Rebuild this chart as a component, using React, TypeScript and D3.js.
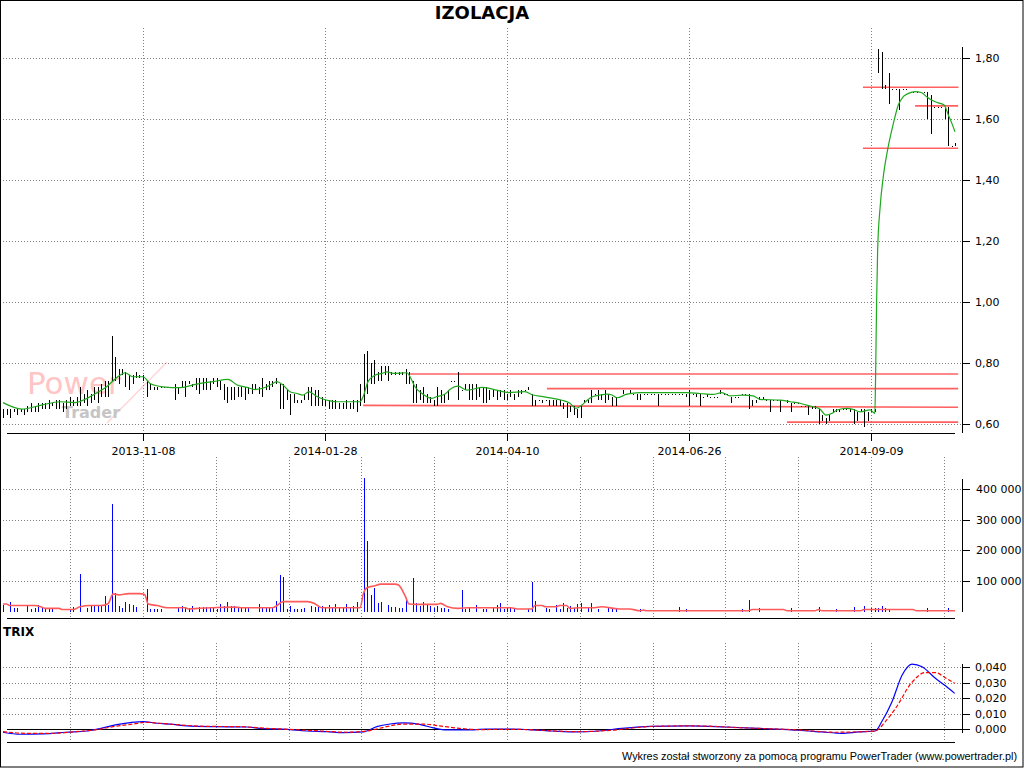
import React, { useEffect } from 'react';
import * as d3 from 'd3';

// ---------- DATA (prices in grosze = 0.01 PLN) ----------
const priceLow = [
  62,63,62,64,63,64,63,64,64,64, 64,65,65,65,66,65,65,64,65,66,
  66,66,66,67,66,67,68,67,69,69, 69,74,74,73,76,72,71,73,75,75,
  74,69,71,71,71,72,72,72,72,68, 70,72,69,73,72,71,70,71,71,71,
  73,72,71,68,67,68,68,69,69,68, 70,70,71,70,69,71,71,72,73,65,
  65,68,63,67,67,67,68,68,66,66, 66,66,66,65,65,65,65,65,65,65,
  65,64,66,67,70,73,73,74,74,76, 74,76,76,76,76,73,73,67,67,68,
  67,67,67,66,66,67,67,68,74,74, 68,71,71,68,68,68,69,67,67,68,
  69,68,69,68,68,69,68,69,70,71, 71,66,66,68,67,68,66,66,66,66,
  65,62,64,63,62,62,67,67,67,70, 68,68,67,68,66,66,69,70,70,70,
  70,68,68,70,70,70,70,66,70,70, 70,70,70,70,70,69,66,70,69,66,
  69,69,69,69,69,70,70,70,67,69, 69,70,70,65,66,67,68,68,68,64,
  68,68,64,68,67,64,67,67,66,66, 63,65,65,60,61,60,61,64,64,64,
  65,65,64,60,61,64,59,61,64,64, 175,170,170,165,170,170,163,170,170,169,
  169,169,169,169,160,155,164,164,164,160, 151,151,151
];
const priceHigh = [
  65,65,65,65,65,65,65,66,67,66, 67,67,67,68,67,68,68,67,68,69,
  68,69,72,70,71,70,72,72,73,74, 74,89,82,78,78,77,76,76,77,76,
  76,74,73,72,72,72,72,72,72,73, 72,74,74,74,73,75,75,75,75,74,
  75,75,74,73,72,72,72,72,72,72, 72,73,73,72,75,73,74,74,75,73,
  73,71,70,70,68,68,70,72,72,71, 71,69,68,68,68,68,67,67,68,67,
  68,68,73,83,84,80,81,77,79,79, 79,77,77,77,77,78,77,74,73,71,
  72,70,69,68,72,71,70,71,74,74, 77,71,73,73,73,73,72,72,72,71,
  71,71,71,71,70,71,70,71,71,71, 72,70,68,68,68,68,68,68,68,68,
  67,67,66,66,65,66,68,68,71,70, 71,70,71,70,69,69,69,71,70,71,
  70,70,70,70,70,70,70,70,70,70, 70,70,70,70,70,70,71,70,70,70,
  69,70,69,69,69,71,70,70,69,69, 69,70,70,70,68,68,69,69,68,68,
  68,68,68,68,68,67,67,67,66,66, 66,66,66,65,63,62,63,65,65,65,
  65,65,65,65,64,65,65,64,65,65, 183,182,171,175,170,170,170,170,170,169,
  169,169,169,169,169,168,164,164,164,164, 164,151,152
];
// volume in thousands of shares
const volumeK = [
  22,0,33,11,13,0,0,22,9,13, 22,13,9,9,9,0,0,0,0,5,
  16,0,123,0,11,18,18,18,18,51, 22,351,60,18,13,33,25,22,16,0,
  0,75,9,9,9,9,0,0,0,0, 16,20,16,11,20,0,15,15,15,15,
  11,8,25,20,33,20,20,11,15,11, 11,0,0,25,15,11,11,11,35,119,
  113,9,20,9,9,9,11,0,20,15, 15,20,15,22,11,25,11,11,25,11,
  20,33,0,436,231,54,78,27,33,0, 22,16,16,11,11,38,0,111,27,20,
  33,22,20,11,20,11,11,9,0,0, 0,71,9,11,0,22,0,9,9,0,
  11,22,27,9,11,16,9,0,0,0, 9,98,35,0,0,11,9,0,22,9,
  27,13,20,13,24,27,0,11,27,0, 9,0,0,13,9,11,0,0,0,0,
  0,0,9,0,0,0,0,0,0,0, 0,0,0,16,0,9,0,0,0,0,
  0,0,0,0,0,0,0,0,0,0, 0,9,0,38,0,0,13,0,0,0,
  0,0,0,0,0,13,0,0,0,0, 0,0,0,16,0,0,0,0,9,0,
  0,0,0,16,0,0,20,0,11,11, 11,20,11,9,0,0,0,0,0,0,
  0,0,0,0,13,0,0,0,0,0, 13,0,0
];
// moving average of price: [bar index, value]
const priceMA: [number, number][] = [
  [0,0.670],[5.4,0.649],[11,0.662],[16.3,0.673],[20.6,0.670],[24,0.684],[27.7,0.708],[29.6,0.722],
  [31.5,0.742],[33.4,0.760],[34.9,0.768],[37.1,0.755],[40,0.755],[42,0.733],[45.7,0.722],[50.6,0.719],
  [54.3,0.728],[56.3,0.733],[60,0.739],[64.3,0.746],[66.9,0.728],[69.7,0.720],[72,0.713],[75.4,0.722],
  [77.1,0.733],[78.3,0.739],[80,0.728],[82,0.706],[84,0.700],[85.7,0.695],[87.4,0.706],[89.7,0.690],
  [91.4,0.682],[93.4,0.676],[95.4,0.673],[102,0.673],[102.9,0.690],[104.3,0.739],[106.3,0.760],
  [108.3,0.766],[109.7,0.771],[111.4,0.766],[115.4,0.768],[116.3,0.755],[117.7,0.722],[119.7,0.700],
  [122.6,0.684],[124,0.690],[126.3,0.698],[127.7,0.713],[130,0.724],[132.6,0.711],[137.1,0.720],
  [141.1,0.711],[144.3,0.703],[149.1,0.706],[151.4,0.695],[154.3,0.690],[157.1,0.684],[159.7,0.678],
  [162,0.668],[163.7,0.651],[165.4,0.662],[166.9,0.678],[168.6,0.690],[170.6,0.695],[172.6,0.698],
  [174,0.695],[175.4,0.686],[178.3,0.698],[182,0.703],[195.4,0.703],[199.1,0.700],[202.9,0.697],
  [205.4,0.703],[207.7,0.692],[211.4,0.695],[214.3,0.692],[216.3,0.681],[222,0.678],[224.9,0.673],
  [227.7,0.668],[230.6,0.659],[233.4,0.649],[235.1,0.629],[236.9,0.635],[238.3,0.646],[241.1,0.651],
  [242.9,0.648],[244.9,0.640],[247.7,0.646],[249.1,0.635],[249.3,0.745],[249.6,1.000],[249.9,1.170],
  [250.6,1.310],[251.5,1.410],[252.6,1.490],[253.1,1.520],[254.4,1.586],[255.8,1.646],[257.2,1.673],
  [258.7,1.684],[260.6,1.690],[262.5,1.686],[263.9,1.673],[265.3,1.662],[267.2,1.653],[268.9,1.646],
  [270.1,1.613],[271.3,1.580],[272,1.558]
];
// volume moving average: [bar index, thousands]
const volumeMA: [number, number][] = [
  [0,25],[1,25],[2,20],[9,20],[11,15],[12,11],[16,11],[17,7],[20,7],[22,16],[25,20],[28,20],[30,26],
  [31.5,58],[33,55],[36,59],[39,59],[40.5,55],[41.5,25],[44,20],[47,13],[52,13],[53,9],[56,11],[60,13],
  [66,15],[68,13],[77,13],[78,18],[80,33],[87,33],[89,27],[91,13],[102,13],[103,60],[104,78],[106,84],
  [108,90],[112,90],[113,87],[115,49],[116,25],[118,24],[124,24],[125,27],[127,16],[130,11],[133,13],
  [145,13],[147,9],[151,9],[152,20],[154,20],[155,16],[158,16],[159,20],[161,20],[162,11],[165,13],
  [169,13],[171,16],[176,9],[179,9],[182,3],[183,5],[184,3],[213,3],[214,7],[223,7],[224,3],[232,3],
  [233,7],[234,3],[245,3],[246,7],[260,7],[261,3],[272,3]
];
const trixLine: [number, number][] = [
  [0,-0.0019],[5,-0.0032],[11.5,-0.003],[18,-0.0019],[24,-0.0011],[28,0.0006],[32.5,0.003],[36.3,0.0043],
  [40,0.005],[44,0.0039],[48.6,0.0032],[52.5,0.0022],[60,0.0017],[69.7,0.0015],[73.4,0.0006],[81,0],
  [86.8,-0.0011],[92.5,-0.0015],[97.2,-0.0022],[103,-0.0017],[106.8,0.0017],[110.6,0.0034],[114.4,0.0041],
  [119,0.0032],[123,0.0009],[126.8,-0.0004],[134.4,-0.0004],[138,0.0002],[145,0.0002],[156.9,-0.0011],
  [163.5,-0.0017],[170.2,-0.0011],[175.9,0.0004],[185.4,0.0019],[195.9,0.0022],[206.4,0.0015],
  [217.8,0.0004],[227.3,-0.0006],[234,-0.0017],[239.7,-0.0026],[244.5,-0.0017],[249.2,-0.0011],
  [251.1,0.005],[254,0.0178],[256.9,0.035],[259.7,0.0421],[262.6,0.0404],[266.4,0.0329],[269.2,0.0282],
  [271.9,0.0232]
];
const trixSignal: [number, number][] = [
  [0,-0.0015],[7,-0.0026],[13.4,-0.0026],[21,-0.0015],[26.8,-0.0002],[31.5,0.0017],[37.2,0.0034],
  [41,0.0045],[44.8,0.0039],[50.6,0.0028],[58.2,0.0019],[67.7,0.0017],[75.3,0.0006],[83,-0.0002],
  [90.6,-0.0011],[98.2,-0.0019],[103.9,-0.0011],[109.6,0.0017],[114.4,0.0034],[120,0.0034],[124.8,0.0022],
  [130.5,0.0006],[136.3,-0.0002],[145,0],[164.5,-0.0015],[174,-0.0006],[185.4,0.0019],[196.9,0.0022],
  [212.1,0.0009],[227.3,-0.0004],[237.8,-0.0019],[249.2,-0.0011],[252.1,0.005],[255,0.0135],
  [259.7,0.0303],[263.5,0.0366],[266.4,0.0366],[269.2,0.0333],[271.9,0.0297]
];
// support / resistance lines: [startIndex, startValue, endIndex, endValue]
const srLines: [number, number, number, number][] = [
  [116.3,0.764,272.9,0.764],
  [155.4,0.716,272.9,0.716],
  [102.9,0.661,272.9,0.655],
  [224,0.606,272.9,0.606],
  [245.7,1.704,273,1.704],
  [260.6,1.643,272.9,1.643],
  [245.7,1.504,272.9,1.504]
];
const dateIdx = [40, 92, 144, 196, 248];
const dateLabels = ['2013-11-08', '2014-01-28', '2014-04-10', '2014-06-26', '2014-09-09'];
const priceTicks = [0.6, 0.8, 1.0, 1.2, 1.4, 1.6, 1.8];
const volumeTicks = [100000, 200000, 300000, 400000];
const trixTicks = [0, 0.01, 0.02, 0.03, 0.04];

const FONT = 'DejaVu Sans, Verdana, sans-serif';

export default function App() {
  useEffect(() => { document.body.style.margin = '0'; }, []);

  const x = d3.scaleLinear().domain([0, 272]).range([3, 955]);
  const yP = d3.scaleLinear().domain([0.6, 1.8]).range([424, 58]);
  const yV = d3.scaleLinear().domain([0, 400000]).range([611.7, 489]);
  const yT = d3.scaleLinear().domain([0, 0.04]).range([729.3, 667.3]);
  const px = (i: number) => Math.round(x(i)) + 0.5;
  const snap = (v: number) => Math.round(v) + 0.5;

  const maPath = d3.line<[number, number]>().x(d => x(d[0])).y(d => yP(d[1])).curve(d3.curveMonotoneX)(priceMA) || '';
  const vmaPath = d3.line<[number, number]>().x(d => x(d[0])).y(d => yV(d[1] * 1000)).curve(d3.curveMonotoneX)(volumeMA) || '';
  const trixPath = d3.line<[number, number]>().x(d => x(d[0])).y(d => yT(d[1])).curve(d3.curveMonotoneX)(trixLine) || '';
  const sigPath = d3.line<[number, number]>().x(d => x(d[0])).y(d => yT(d[1])).curve(d3.curveMonotoneX)(trixSignal) || '';

  const subGrid = d3.range(-1, 12).map(k => dateIdx[0] + k * 20.8);
  const fmtPrice = (v: number) => v.toFixed(2).replace('.', ',');
  const fmtVol = (v: number) => d3.format(',')(v).replace(/,/g, ' ');
  const fmtTrix = (v: number) => v.toFixed(3).replace('.', ',');
  const gridStyle = { stroke: '#808080', strokeWidth: 1, strokeDasharray: '1,2' } as const;

  return (
    <svg width={1024} height={768} style={{ position: 'absolute', left: 0, top: 0, background: '#fff' }}
      fontFamily={FONT}>
      <rect x={0} y={0} width={1024} height={768} fill="#fff" />
      {/* watermark */}
      <g opacity={0.5}>
        <line x1={107} y1={423} x2={167} y2={362} stroke="#ffb0b0" strokeWidth={1.5} />
        <text x={27} y={394} fontSize={31} fill="#ff8c8c" fontFamily={FONT}>Power</text>
        <text x={62} y={418} fontSize={16} fontWeight="bold" fill="#8c8c8c" fontFamily={FONT}>Trader</text>
      </g>

      {/* title */}
      <text x={482} y={19} textAnchor="middle" fontSize={18} fontWeight="bold" fill="#000">IZOLACJA</text>

      {/* ===== main panel grid ===== */}
      {priceTicks.map(t => (
        <line key={'pg' + t} x1={3} x2={962} y1={snap(yP(t))} y2={snap(yP(t))} {...gridStyle} />
      ))}
      {dateIdx.map(i => (
        <line key={'pv' + i} x1={px(i)} x2={px(i)} y1={28} y2={433} {...gridStyle} />
      ))}

      {/* support/resistance */}
      {srLines.map((s, k) => (
        <line key={'sr' + k} x1={x(s[0])} x2={x(s[2])} y1={yP(s[1])} y2={yP(s[3])}
          stroke="#ff5050" strokeWidth={1.6} strokeOpacity={0.9} />
      ))}

      {/* price bars */}
      <g stroke="#000" strokeWidth={1} shapeRendering="crispEdges">
        {priceHigh.map((h, i) => {
          const yh = Math.round(yP(h / 100));
          const yl = Math.max(Math.round(yP(priceLow[i] / 100)), yh + 1);
          return <line key={'b' + i} x1={px(i)} x2={px(i)} y1={yh} y2={yl} />;
        })}
      </g>
      <path d={maPath} fill="none" stroke="#1ea81e" strokeWidth={1.2} />

      {/* main axes */}
      <line x1={7} x2={955} y1={433.5} y2={433.5} stroke="#000" />
      {dateIdx.map((i, k) => (
        <g key={'dt' + i}>
          <line x1={px(i)} x2={px(i)} y1={433} y2={441} stroke="#000" />
          <text x={px(i)} y={455} textAnchor="middle" fontSize={11}>{dateLabels[k]}</text>
        </g>
      ))}
      <line x1={962.5} x2={962.5} y1={47} y2={433} stroke="#000" />
      {priceTicks.map(t => (
        <g key={'pt' + t}>
          <line x1={962} x2={970} y1={snap(yP(t))} y2={snap(yP(t))} stroke="#000" />
          <text x={975} y={yP(t) + 4} fontSize={11}>{fmtPrice(t)}</text>
        </g>
      ))}

      {/* ===== volume panel ===== */}
      {volumeTicks.map(t => (
        <line key={'vg' + t} x1={3} x2={962} y1={snap(yV(t))} y2={snap(yV(t))} {...gridStyle} />
      ))}
      {subGrid.map(i => (
        <line key={'vv' + i} x1={px(i)} x2={px(i)} y1={457} y2={617} {...gridStyle} />
      ))}
      <g stroke="#0000ff" strokeWidth={1} shapeRendering="crispEdges">
        {volumeK.map((v, i) => v > 0 ? (
          <line key={'v' + i} x1={px(i)} x2={px(i)} y1={Math.round(yV(v * 1000))} y2={612} />
        ) : null)}
      </g>
      <path d={vmaPath} fill="none" stroke="#ff5a5a" strokeWidth={1.6} />
      <line x1={7} x2={955} y1={618.5} y2={618.5} stroke="#000" />
      <line x1={962.5} x2={962.5} y1={479} y2={612} stroke="#000" />
      {volumeTicks.map(t => (
        <g key={'vt' + t}>
          <line x1={962} x2={970} y1={snap(yV(t))} y2={snap(yV(t))} stroke="#000" />
          <text x={976} y={yV(t) + 4} fontSize={11}>{fmtVol(t)}</text>
        </g>
      ))}

      {/* ===== TRIX panel ===== */}
      <text x={3} y={636} fontSize={12} fontWeight="bold">TRIX</text>
      {trixTicks.filter(t => t > 0).map(t => (
        <line key={'tg' + t} x1={3} x2={962} y1={snap(yT(t))} y2={snap(yT(t))} {...gridStyle} />
      ))}
      {subGrid.map(i => (
        <line key={'tv' + i} x1={px(i)} x2={px(i)} y1={643} y2={740} {...gridStyle} />
      ))}
      <line x1={7} x2={962} y1={snap(yT(0))} y2={snap(yT(0))} stroke="#000" />
      <path d={trixPath} fill="none" stroke="#0000ff" strokeWidth={1.2} />
      <path d={sigPath} fill="none" stroke="#ff0000" strokeWidth={1.2} strokeDasharray="4,2" />
      <line x1={7} x2={955} y1={742.5} y2={742.5} stroke="#000" />
      <line x1={962.5} x2={962.5} y1={664} y2={733} stroke="#000" />
      {trixTicks.map(t => (
        <g key={'tt' + t}>
          <line x1={962} x2={970} y1={snap(yT(t))} y2={snap(yT(t))} stroke="#000" />
          <text x={975} y={yT(t) + 4} fontSize={11}>{fmtTrix(t)}</text>
        </g>
      ))}

      {/* footer */}
      <text x={1017} y={760} textAnchor="end" fontSize={11} fontFamily="Liberation Sans, Arial, sans-serif"
        textLength={395} lengthAdjust="spacingAndGlyphs">
        Wykres został stworzony za pomocą programu PowerTrader (www.powertrader.pl)
      </text>

      {/* frame */}
      <rect x={0.5} y={0.5} width={1022.5} height={766.5} fill="none" stroke="#000" />
    </svg>
  );
}
